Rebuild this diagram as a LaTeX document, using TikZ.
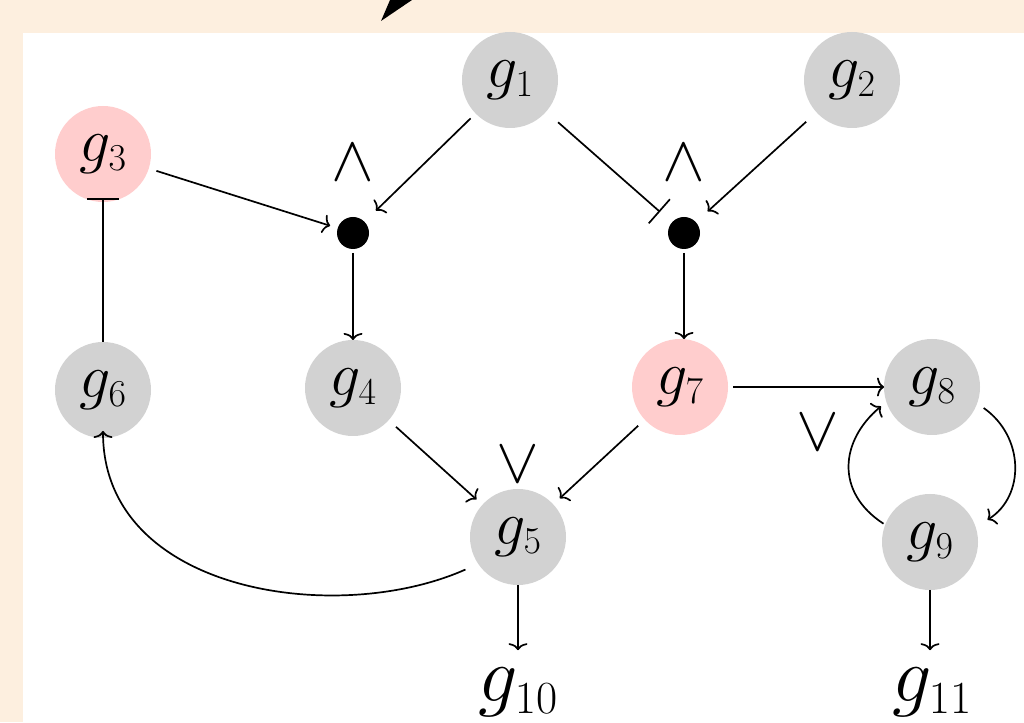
\RequirePackage{fix-cm}
\documentclass[tikz,border=0pt]{standalone}
\usetikzlibrary{arrows.meta}
\DeclareMathSizes{62}{62}{38}{28}
\DeclareMathSizes{78}{78}{46}{34}
\definecolor{cream}{RGB}{253,239,223}
\definecolor{genegray}{RGB}{210,210,210}
\definecolor{genepink}{RGB}{255,205,205}
\begin{document}
\begin{tikzpicture}[x=1pt,y=1pt,
  gene/.style={circle, fill=genegray, minimum size=96pt, inner sep=0pt, outer sep=0pt, font=\fontsize{62}{68}\selectfont},
  pinkgene/.style={gene, fill=genepink},
  gate/.style={circle, fill=black, minimum size=32pt, inner sep=0pt, outer sep=0pt},
  oplabel/.style={font=\fontsize{64}{70}\selectfont, inner sep=0pt},
  outlabel/.style={font=\fontsize{78}{86}\selectfont, inner sep=0pt, anchor=base},
  edge/.style={line width=1.7pt, draw=black},
  act/.style={edge, -{To[length=7pt,width=19pt]}},
  inh/.style={edge, -{Bar[width=32pt]}},
]
\useasboundingbox (0,0) rectangle (1024,722);
\fill[cream] (0,0) rectangle (1024,722);
\fill[white] (23,0) rectangle (1024,689);
\fill[black] (381,701) -- (390,722) -- (412,722) -- cycle;

\node[gene] (g1) at (510,642) {$g_1$};
\node[gene] (g2) at (852,642) {$g_2$};
\node[pinkgene] (g3) at (103,568) {$g_3$};
\node[gate] (d1) at (353,489) {};
\node[gate] (d2) at (684,489) {};
\node[oplabel] (a1) at (353,559) {$\wedge$};
\node[oplabel] (a2) at (684,559) {$\wedge$};
\node[gene] (g6) at (103,332) {$g_6$};
\node[gene] (g4) at (353,334) {$g_4$};
\node[pinkgene] (g7) at (680,335) {$g_7$};
\node[gene] (g8) at (932,335) {$g_8$};
\node[gene] (g5) at (518,185) {$g_5$};
\node[gene] (g9) at (930,180) {$g_9$};
\node[oplabel] (o1) at (518,257) {$\vee$};
\node[oplabel] (o2) at (818,289) {$\vee$};
\node[outlabel] (g10) at (518,20) {$g_{10}$};
\node[outlabel] (g11) at (932,20) {$g_{11}$};

\draw[act, shorten <=7pt, shorten >=16pt] (g1) -- (d1);
\draw[act, shorten <=8pt, shorten >=8pt] (g3) -- (d1);
\draw[act, shorten <=14pt, shorten >=16pt] (g2) -- (d2);
\draw[inh, shorten <=16pt, shorten >=16pt] (g1) -- (d2);
\draw[act, shorten <=4pt] (d1) -- (g4);
\draw[act, shorten <=4pt] (d2) -- (d2 |- g7.north);
\draw[act, shorten <=10pt, shorten >=8pt] (g4) -- (g5);
\draw[act, shorten <=9pt, shorten >=9pt] (g7) -- (g5);
\draw[act, shorten <=5pt] (g7) -- (g8);
\draw[inh, shorten >=-4pt] (g6) -- (g3);
\draw[act, shorten <=14pt, shorten >=-7pt] (g5.214) to[out=204,in=-90] (g6.south);
\draw[act, shorten <=8pt, shorten >=14pt] (g8.-20) to[out=-35,in=32,looseness=1.2] (g9.18);
\draw[act, shorten <=2pt, shorten >=7pt] (g9.159) to[out=147,in=220,looseness=1.25] (g8.198);
\draw[act, shorten >=18pt] (g5) -- (g5 |- g10.north);
\draw[act, shorten >=18pt] (g9) -- (g9 |- g11.north);
\end{tikzpicture}
\end{document}
